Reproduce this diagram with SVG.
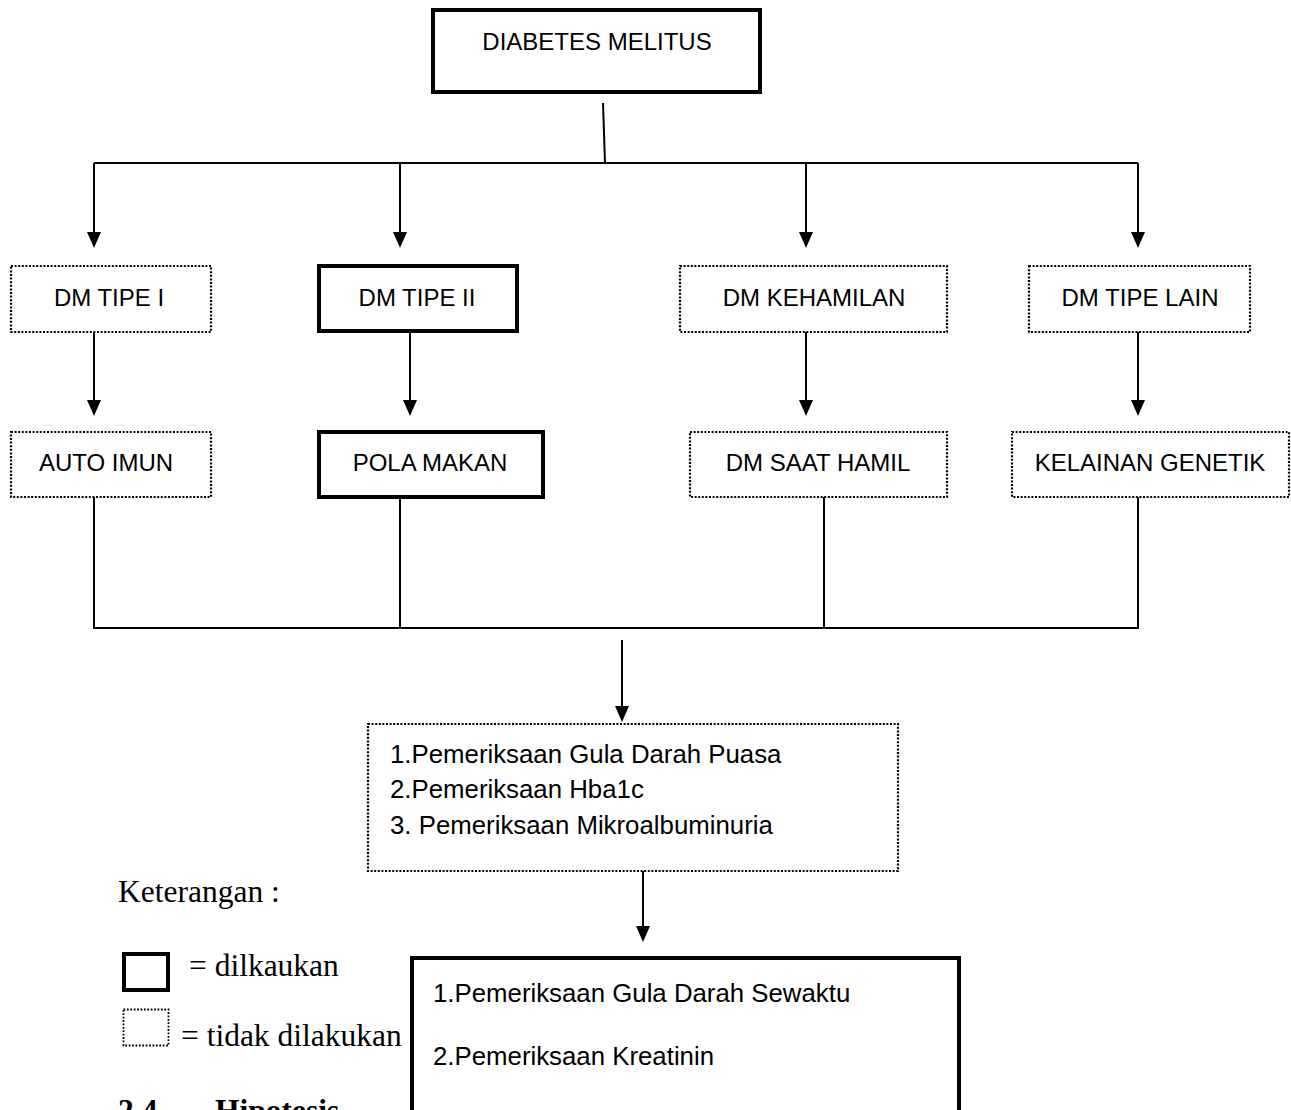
<svg xmlns="http://www.w3.org/2000/svg" width="1291" height="1110" viewBox="0 0 1291 1110">
<defs>
<style>
.solid{fill:#fff;stroke:#000;stroke-width:4}
.dot{fill:#fff;stroke:#000;stroke-width:2.2;stroke-dasharray:2 1.6}
.ln{fill:none;stroke:#000;stroke-width:2}
.t{font-family:"Liberation Sans",Arial,sans-serif;font-size:24px;fill:#000}
.tm{font-family:"Liberation Sans",Arial,sans-serif;font-size:25.8px;fill:#000}
.tr{font-family:"Liberation Serif","Times New Roman",serif;font-size:31.5px;fill:#000}
</style>
</defs>
<rect width="1291" height="1110" fill="#fff"/>
<g id="connectors">
<path class="ln" d="M603,103 L605,163"/>
<path class="ln" d="M94,163 L1138,163"/>
<path class="ln" d="M94,163 L94,234"/>
<path d="M87,232 L101,232 L94,248 Z"/>
<path class="ln" d="M400,163 L400,234"/>
<path d="M393,232 L407,232 L400,248 Z"/>
<path class="ln" d="M806,163 L806,234"/>
<path d="M799,232 L813,232 L806,248 Z"/>
<path class="ln" d="M1138,163 L1138,234"/>
<path d="M1131,232 L1145,232 L1138,248 Z"/>
<path class="ln" d="M94,332 L94,402"/>
<path d="M87,400 L101,400 L94,416 Z"/>
<path class="ln" d="M410,331 L410,402"/>
<path d="M403,400 L417,400 L410,416 Z"/>
<path class="ln" d="M806,332 L806,402"/>
<path d="M799,400 L813,400 L806,416 Z"/>
<path class="ln" d="M1138,332 L1138,402"/>
<path d="M1131,400 L1145,400 L1138,416 Z"/>
<path class="ln" d="M94,497 L94,628 M400,497 L400,628 M824,497 L824,628 M1138,497 L1138,628"/>
<path class="ln" d="M93,628 L1139,628"/>
<path class="ln" d="M622,640 L622,708"/>
<path d="M615,706 L629,706 L622,722 Z"/>
<path class="ln" d="M643,858 L643,928"/>
<path d="M636,926 L650,926 L643,942 Z"/>
</g>
<g id="n-dm">
<rect class="solid" x="433" y="10" width="327" height="82"/>
<text class="t" x="597" y="50" text-anchor="middle">DIABETES MELITUS</text>
</g>
<g id="n-tipe1">
<rect class="dot" x="11" y="266" width="200" height="66"/>
<text class="t" x="109" y="305.5" text-anchor="middle">DM TIPE I</text>
</g>
<g id="n-tipe2">
<rect class="solid" x="319" y="266" width="198" height="65"/>
<text class="t" x="417" y="305.5" text-anchor="middle">DM TIPE II</text>
</g>
<g id="n-hamil">
<rect class="dot" x="680" y="266" width="267" height="66"/>
<text class="t" x="814" y="305.5" text-anchor="middle">DM KEHAMILAN</text>
</g>
<g id="n-lain">
<rect class="dot" x="1029" y="266" width="221" height="66"/>
<text class="t" x="1140" y="305.5" text-anchor="middle">DM TIPE LAIN</text>
</g>
<g id="n-auto">
<rect class="dot" x="11" y="432" width="200" height="65"/>
<text class="t" x="106" y="470.5" text-anchor="middle">AUTO IMUN</text>
</g>
<g id="n-pola">
<rect class="solid" x="319" y="432" width="224" height="65"/>
<text class="t" x="430" y="470.5" text-anchor="middle">POLA MAKAN</text>
</g>
<g id="n-saat">
<rect class="dot" x="690" y="432" width="257" height="65"/>
<text class="t" x="818" y="470.5" text-anchor="middle">DM SAAT HAMIL</text>
</g>
<g id="n-genetik">
<rect class="dot" x="1012" y="432" width="277" height="65"/>
<text class="t" x="1150" y="470.5" text-anchor="middle">KELAINAN GENETIK</text>
</g>
<g id="n-periksa1">
<rect class="dot" x="368" y="724" width="530" height="147"/>
<text class="tm" x="390" y="763">1.Pemeriksaan Gula Darah Puasa</text>
<text class="tm" x="390" y="798">2.Pemeriksaan Hba1c</text>
<text class="tm" x="390" y="834">3. Pemeriksaan Mikroalbuminuria</text>
</g>
<g id="n-periksa2">
<rect class="solid" x="412" y="958" width="547" height="156"/>
<text class="tm" x="433" y="1002">1.Pemeriksaan Gula Darah Sewaktu</text>
<text class="tm" x="433" y="1065">2.Pemeriksaan Kreatinin</text>
</g>
<g id="legend">
<text class="tr" x="118" y="902" font-size="30">Keterangan :</text>
<rect class="solid" x="124" y="954" width="44" height="36"/>
<text class="tr" x="189" y="976">= dilkaukan</text>
<rect x="123.5" y="1009.5" width="45" height="36" fill="none" stroke="#000" stroke-width="1.8" stroke-dasharray="1.8 1.6"/>
<text class="tr" x="181" y="1046">= tidak dilakukan</text>
<text class="tr" x="118" y="1121" font-weight="bold">2.4</text>
<text class="tr" x="215" y="1121" font-weight="bold">Hipotesis</text>
</g>
</svg>
